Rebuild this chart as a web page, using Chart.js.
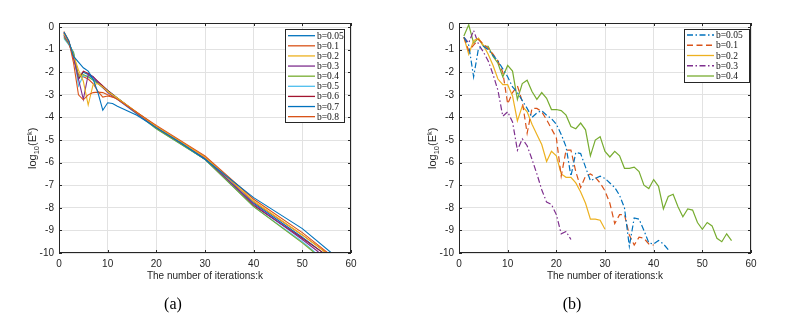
<!DOCTYPE html>
<html>
<head>
<meta charset="utf-8">
<script src="https://cdn.jsdelivr.net/npm/chart.js@4.4.1/dist/chart.umd.min.js"></script>
<style>
  html, body { margin: 0; padding: 0; background: #fff; }
  #wrap { position: relative; width: 793px; height: 318px; overflow: hidden; }
  canvas { position: absolute; top: 0; }
  #cA { left: 0; }
  #cB { left: 400px; }
</style>
</head>
<body>
<div id="wrap">
  <canvas id="cA" width="400" height="318"></canvas>
  <canvas id="cB" width="393" height="318"></canvas>
</div>
<script>
// axis ticks
const kTicks = [0, 10, 20, 30, 40, 50, 60];
const logTicks = [-10, -9, -8, -7, -6, -5, -4, -3, -2, -1, 0];

// (a) nine values of b, [k, log10(E^k)]
const labelsA = ['b=0.05', 'b=0.1', 'b=0.2', 'b=0.3', 'b=0.4', 'b=0.5', 'b=0.6', 'b=0.7', 'b=0.8'];
const a005 = [[1,-0.22],[2,-0.6],[3,-1.3],[4,-1.55],[5,-1.8],[6,-1.95],[7,-2.3],[8,-2.9],[9,-3.68],[10,-3.35],[11,-3.38],[12,-3.5],[16,-3.9],[20,-4.45],[25,-5.12],[30,-5.85],[40,-7.55],[50,-8.92],[56,-10.0]];
const a01  = [[1,-0.2],[2,-0.6],[3,-1.6],[4,-3.0],[5,-3.22],[6,-3.0],[7,-2.9],[8,-2.88],[9,-2.9],[10,-3.0],[11,-3.1],[12,-3.2],[20,-4.35],[30,-5.7],[40,-7.62],[50,-9.1],[55,-9.95],[56,-10.13]];
const a02  = [[1,-0.3],[2,-0.65],[3,-1.25],[4,-1.9],[5,-2.4],[6,-3.45],[7,-2.55],[8,-2.5],[9,-2.65],[10,-2.85],[12,-3.15],[20,-4.4],[30,-5.75],[40,-7.7],[50,-9.2],[54,-9.85],[55,-10.05]];
const a03  = [[1,-0.38],[2,-0.7],[3,-1.35],[4,-2.3],[5,-3.2],[6,-2.1],[7,-2.2],[8,-2.45],[10,-2.9],[12,-3.2],[20,-4.45],[30,-5.8],[40,-7.85],[50,-9.4],[53,-9.9],[54,-10.1]];
const a04  = [[1,-0.45],[2,-0.75],[3,-1.15],[4,-2.2],[5,-2.1],[6,-2.2],[7,-2.35],[8,-2.5],[10,-2.85],[12,-3.15],[20,-4.5],[30,-5.85],[40,-7.95],[50,-9.55],[52,-9.9],[53,-10.1]];
const a05  = [[1,-0.5],[2,-0.78],[3,-1.1],[4,-2.6],[5,-2.15],[6,-2.2],[7,-2.35],[8,-2.5],[10,-2.85],[12,-3.2],[20,-4.5],[30,-5.85],[40,-7.95],[50,-9.5],[52,-9.85],[53,-10.05]];
const a06  = [[1,-0.28],[2,-0.65],[3,-1.3],[4,-2.3],[5,-1.95],[6,-2.05],[7,-2.2],[8,-2.4],[10,-2.8],[12,-3.15],[20,-4.45],[30,-5.85],[40,-7.9],[50,-9.35],[54,-9.95],[55,-10.1]];
const a07  = [[1,-0.35],[2,-0.7],[3,-1.2],[4,-2.3],[5,-2.0],[6,-2.1],[7,-2.3],[8,-2.45],[10,-2.8],[12,-3.15],[20,-4.45],[30,-5.85],[40,-7.8],[50,-9.3],[54,-9.95],[55,-10.1]];
const a08  = [[1,-0.25],[2,-0.62],[3,-1.4],[4,-2.1],[5,-2.2],[6,-2.3],[7,-2.5],[8,-2.85],[9,-3.1],[10,-3.05],[12,-3.15],[20,-4.4],[30,-5.75],[40,-7.75],[50,-9.2],[55,-10.0],[56,-10.1]];

// (b) five values of b, log10(E^k) for k = 1, 2, 3, ...
const labelsB = ['b=0.05', 'b=0.1', 'b=0.2', 'b=0.3', 'b=0.4'];
const b005 = [-0.45,-0.8,-2.2,-0.95,-0.85,-1.0,-1.25,-1.5,-1.85,-2.2,-2.65,-2.9,-3.25,-3.6,-4.0,-3.8,-3.7,-3.9,-4.05,-4.3,-4.75,-5.3,-6.6,-5.55,-5.6,-6.2,-6.8,-6.7,-6.6,-6.7,-6.9,-7.1,-7.45,-8.0,-9.7,-8.45,-8.5,-9.0,-9.55,-9.6,-9.45,-9.6,-9.85];
const b01  = [-0.45,-1.05,-0.8,-0.55,-0.75,-0.95,-1.2,-1.5,-2.0,-3.4,-2.9,-2.6,-3.3,-4.7,-3.6,-3.6,-3.75,-4.1,-4.5,-4.9,-6.6,-5.45,-5.45,-6.4,-7.1,-6.6,-6.5,-6.65,-6.9,-7.25,-7.8,-8.7,-8.3,-8.3,-9.2,-9.65,-9.3,-9.35,-9.6,-9.65];
const b02  = [-0.45,-1.2,-0.6,-0.5,-0.8,-1.2,-1.7,-2.3,-2.55,-2.55,-3.05,-4.15,-3.5,-3.75,-4.3,-4.75,-5.2,-5.95,-5.5,-5.7,-6.5,-6.65,-6.65,-6.9,-7.3,-7.8,-8.5,-8.5,-8.55,-8.95];
const b03  = [-0.45,-0.7,-0.15,-0.75,-1.1,-1.5,-2.1,-2.8,-3.95,-3.75,-4.2,-5.45,-4.95,-5.25,-5.85,-6.5,-7.2,-7.75,-7.85,-8.3,-9.15,-9.05,-9.4];
const b04  = [-0.4,0.1,-0.7,-0.5,-0.85,-0.85,-1.3,-1.6,-2.2,-1.7,-1.95,-3.2,-2.5,-2.35,-2.85,-3.2,-2.9,-3.15,-3.65,-3.65,-3.7,-3.9,-4.4,-4.5,-4.25,-4.55,-5.7,-5.0,-4.85,-5.5,-5.75,-5.5,-5.7,-6.25,-6.25,-6.2,-6.4,-7.0,-7.15,-6.75,-7.05,-8.05,-7.5,-7.4,-7.95,-8.4,-8.05,-8.1,-8.65,-8.95,-8.65,-8.8,-9.35,-9.5,-9.15,-9.45];

// matlab default colour order
const mBlue = '#0072BD', mOrange = '#D95319', mYellow = '#EDB120', mPurple = '#7E2F8E',
      mGreen = '#77AC30', mCyan = '#4DBEEE', mRed = '#A2142F';

const dashDot = [6, 2.5, 1.5, 2.5];
const dashed = [6, 3.5];
const axisColor = '#262626';
const sansFont = '"Liberation Sans", Arial, sans-serif';
const serifFont = '"Liberation Serif", "Times New Roman", serif';

function drawYLabel(ctx, x, y) {
  // log_{10}(E^{k}), rotated, starting at (x, y) and going up
  const parts = [['log', 11, 0], ['10', 7.5, 3], ['(E', 11, 0], ['k', 7.5, -4.5], [')', 11, 0]];
  ctx.save();
  ctx.translate(x, y);
  ctx.rotate(-Math.PI / 2);
  ctx.fillStyle = axisColor;
  ctx.textBaseline = 'alphabetic';
  ctx.textAlign = 'left';
  let pos = 0;
  parts.forEach(p => {
    ctx.font = p[1] + 'px ' + sansFont;
    ctx.fillText(p[0], pos, p[2]);
    pos += ctx.measureText(p[0]).width;
  });
  ctx.restore();
}

const decor = {
  id: 'decor',
  afterDraw(chart, args, o) {
    const ctx = chart.ctx, a = chart.chartArea;
    const xs = chart.scales.x, ys = chart.scales.y;
    ctx.save();
    ctx.strokeStyle = axisColor;
    ctx.lineWidth = 1;
    ctx.setLineDash([]);
    // inward tick marks on all four sides
    ctx.beginPath();
    kTicks.forEach(v => {
      const px = Math.round(xs.getPixelForValue(v)) + 0.5;
      ctx.moveTo(px, a.bottom); ctx.lineTo(px, a.bottom - 3);
      ctx.moveTo(px, a.top); ctx.lineTo(px, a.top + 3);
    });
    logTicks.forEach(v => {
      const py = Math.round(ys.getPixelForValue(v)) + 0.5;
      ctx.moveTo(a.left, py); ctx.lineTo(a.left + 3, py);
      ctx.moveTo(a.right, py); ctx.lineTo(a.right - 3, py);
    });
    ctx.stroke();
    ctx.strokeRect(Math.round(a.left) + 0.5, Math.round(a.top) + 0.5,
                   Math.round(a.right - a.left) - 1, Math.round(a.bottom - a.top) - 1);

    // legend box
    const lg = o.legend;
    ctx.fillStyle = '#fff';
    ctx.fillRect(lg.x0, lg.y0, lg.x1 - lg.x0, lg.y1 - lg.y0);
    ctx.strokeRect(lg.x0 + 0.5, lg.y0 + 0.5, lg.x1 - lg.x0, lg.y1 - lg.y0);
    ctx.font = '9.5px ' + serifFont;
    ctx.textBaseline = 'middle';
    ctx.textAlign = 'left';
    chart.data.datasets.forEach((ds, i) => {
      const y = lg.rowY + i * lg.step;
      ctx.strokeStyle = ds.borderColor;
      ctx.lineWidth = 1.3;
      ctx.setLineDash(ds.borderDash || []);
      ctx.beginPath();
      ctx.moveTo(lg.lineX0, y); ctx.lineTo(lg.lineX1, y);
      ctx.stroke();
      ctx.fillStyle = '#111';
      ctx.fillText(ds.label, lg.textX, y + 0.5);
    });
    ctx.setLineDash([]);

    // axis titles and panel caption
    ctx.fillStyle = axisColor;
    ctx.font = '10px ' + sansFont;
    ctx.textAlign = 'center';
    ctx.textBaseline = 'middle';
    ctx.fillText('The number of iterations:k', (a.left + a.right) / 2, 276);
    drawYLabel(ctx, 36, 169);
    ctx.fillStyle = '#000';
    ctx.font = '16px ' + serifFont;
    ctx.fillText(o.caption, o.captionX, 305);
    ctx.restore();
  }
};

function makeChart(id, datasets, padRight, decorOpts) {
  return new Chart(document.getElementById(id), {
    type: 'line',
    data: { datasets: datasets },
    options: {
      responsive: false,
      animation: false,
      devicePixelRatio: 1,
      layout: { padding: { left: 0, right: padRight, top: 23, bottom: 35 } },
      elements: { point: { radius: 0 }, line: { borderWidth: 1, tension: 0 } },
      plugins: { legend: { display: false }, tooltip: { enabled: false }, decor: decorOpts },
      scales: {
        x: {
          type: 'linear', min: 0, max: 60,
          afterBuildTicks: s => { s.ticks = kTicks.map(v => ({ value: v })); },
          afterFit: s => { s.height = 30; },
          grid: { color: '#e2e2e2', lineWidth: 1, drawTicks: false },
          border: { display: false },
          ticks: { color: axisColor, font: { family: sansFont, size: 10 }, padding: 5, maxRotation: 0, autoSkip: false }
        },
        y: {
          type: 'linear', min: -10, max: 0.18,
          afterBuildTicks: s => { s.ticks = logTicks.map(v => ({ value: v })); },
          afterFit: s => { s.width = 59; },
          grid: { color: '#e2e2e2', lineWidth: 1, drawTicks: false },
          border: { display: false },
          ticks: { color: axisColor, font: { family: sansFont, size: 10 }, padding: 5 }
        }
      }
    },
    plugins: [decor]
  });
}

const toXY = pairs => pairs.map(p => ({ x: p[0], y: p[1] }));
const byIndex = vals => vals.map((v, i) => ({ x: i + 1, y: v }));

const seriesA = [a005, a01, a02, a03, a04, a05, a06, a07, a08];
const colorsA = [mBlue, mOrange, mYellow, mPurple, mGreen, mCyan, mRed, mBlue, mOrange];
const dsA = seriesA.map((s, i) => ({ label: labelsA[i], data: toXY(s), borderColor: colorsA[i], borderWidth: 1.1, fill: false }));

const seriesB = [b005, b01, b02, b03, b04];
const colorsB = [mBlue, mOrange, mYellow, mPurple, mGreen];
const dashesB = [dashDot, dashed, [], dashDot, []];
const dsB = seriesB.map((s, i) => ({ label: labelsB[i], data: byIndex(s), borderColor: colorsB[i], borderDash: dashesB[i], borderWidth: 1.2, fill: false }));

makeChart('cA', dsA, 49, {
  caption: '(a)', captionX: 173,
  legend: { x0: 285, y0: 29, x1: 344, y1: 122, rowY: 35.7, step: 10.12, lineX0: 288, lineX1: 315, textX: 317 }
});
makeChart('cB', dsB, 42, {
  caption: '(b)', captionX: 172,
  legend: { x0: 284, y0: 29, x1: 349, y1: 82, rowY: 35, step: 10.25, lineX0: 287, lineX1: 314, textX: 316 }
});
</script>
</body>
</html>
